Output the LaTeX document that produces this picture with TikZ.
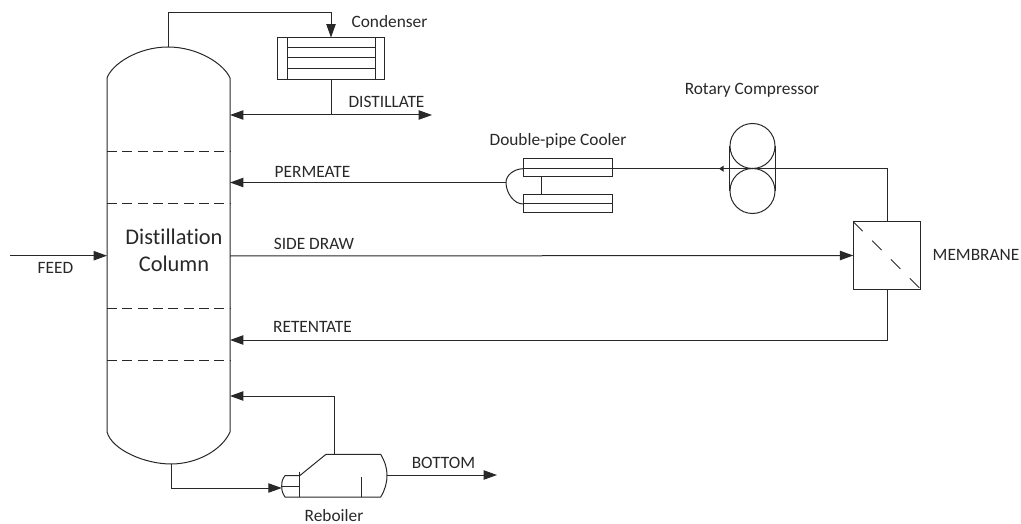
\documentclass[tikz,border=0pt]{standalone}
\usepackage{fontspec}
\setmainfont[Ligatures=NoCommon]{Carlito}
\usetikzlibrary{arrows.meta,calc}
\definecolor{ink}{RGB}{40,40,40}
\tikzset{
  pipe/.style={draw=ink,line width=0.75pt},
  flow/.style={pipe,-{Triangle[length=10pt,width=7pt]}},
  box/.style={draw=ink,line width=0.75pt,rectangle,inner sep=0pt,outer sep=0pt},
  lab/.style={text=ink,font=\fontsize{13}{15}\selectfont,inner sep=0pt},
  biglab/.style={text=ink,font=\fontsize{16.8}{19.5}\selectfont,inner sep=0pt,align=center},
  tray/.style={draw=ink,line width=0.7pt,dash pattern=on 7.5pt off 4pt}
}
\begin{document}
\begin{tikzpicture}[x=0.75pt,y=-0.75pt]
\useasboundingbox (0,0) rectangle (1021,524);
% coordinates
\coordinate (coltop) at (168,47);
\coordinate (colbot) at (171,464);
\coordinate (feedin) at (10,255.7);
\coordinate (feedend) at (107,255.7);
\coordinate (refl) at (230,115);
\coordinate (distout) at (432,115);
\coordinate (permin) at (230,182.5);
\coordinate (sidein) at (230,256);
\coordinate (retin) at (230,340);
\coordinate (boilin) at (230,396);
% column
\draw[pipe] (107,432) -- (107,78) .. controls (112,64) and (138,47) .. (coltop)
  .. controls (198,47) and (224,64) .. (230,78) -- (230,432)
  .. controls (222,450) and (197,464) .. (colbot)
  .. controls (145,464) and (112,450) .. (107,432) -- cycle;
\foreach \y in {151,203,308,360} \draw[tray] (107,\y) -- (230,\y);
\node[biglab] (collabel) at (174,250) {Distillation\\[0.5pt]Column};
% condenser
\node[box,minimum width=80.6pt,minimum height=31.5pt] (cond) at (331,58.5) {};
\draw[pipe] (287.5,37.5) -- (287.5,79.5) (375,37.5) -- (375,79.5);
\foreach \y in {48,58,69} \draw[pipe] (287.5,\y) -- (375,\y);
\coordinate (condtop) at (331,13);
\draw[flow] (coltop) |- (condtop) -- (cond.north);
\coordinate (condjoin) at (331,115);
\draw[pipe] (cond.south) -- (condjoin);
\draw[flow] (condjoin) -- (refl);
\draw[flow] (condjoin) -- (distout);
% double-pipe cooler
\node[box,minimum width=66.75pt,minimum height=13.5pt] (coolA) at (567.5,168) {};
\node[box,minimum width=66.75pt,minimum height=13.5pt] (coolB) at (567.5,204) {};
\coordinate (ua) at (523,168.7);
\coordinate (ub) at (523,204);
\coordinate (um) at (506,182.5);
\draw[pipe] (ua) -- (coolA.east |- ua);
\draw[pipe] (ub) -- (coolB.east |- ub);
\draw[pipe] (ua) .. controls (514,169) and (506,175) .. (um) .. controls (506,193) and (514,204) .. (ub);
\draw[pipe] (541.7,177) -- (541.7,195);
\draw[flow] (um) -- (permin);
% compressor
\node[draw=ink,line width=0.75pt,circle,minimum size=33.75pt,inner sep=0pt] (compA) at (752.5,146) {};
\node[draw=ink,line width=0.75pt,circle,minimum size=33.75pt,inner sep=0pt] (compB) at (752.5,191) {};
\draw[pipe] (compA.west) -- (compB.west) (compA.east) -- (compB.east);
% membrane
\node[box,minimum size=50.6pt] (mem) at (887,255.5) {};
\draw[draw=ink,line width=0.6pt,dash pattern=on 10pt off 10pt] (mem.north west) -- (mem.south east);
\coordinate (memup) at (887,168.7);
\coordinate (memdown) at (887,340);
\draw[pipe] (mem.north) -- (memup) -- (coolA.east |- memup);
\draw[draw=ink,line width=0.75pt,-{Triangle[length=3.5pt,width=4.5pt]}] (726,168.7) -- (719,168.7);
\draw[flow] (sidein) -- (mem.west);
\draw[flow] (mem.south) -- (memdown) -- (retin);
% feed
\draw[flow] (feedin) -- (feedend);
% reboiler
\coordinate (rbin) at (281.7,488);
\coordinate (rbtop) at (334,454.3);
\coordinate (rbout) at (387,475);
\coordinate (bottomout) at (497,475);
\draw[pipe] (299.3,476) -- (326,454.3) -- (380.7,454.3) .. controls (385,462) and (387,468) .. (rbout)
  .. controls (387,483) and (385,490) .. (380.7,497) -- (285,497)
  .. controls (282.5,493) and (281.7,491) .. (281.7,486.3)
  .. controls (281.7,481) and (282.5,479) .. (285,475.7) -- (299.3,475.7);
\draw[pipe] (299.3,471.7) -- (299.3,497) (281.7,486.3) -- (299.3,486.3) (361,497) -- (361,476.7);
\coordinate (rbelbow) at (171,488);
\draw[flow] (colbot) -- (rbelbow) -- (rbin);
\coordinate (rbup) at (334,396);
\draw[flow] (rbtop) -- (rbup) -- (boilin);
\draw[flow] (rbout) -- (bottomout);
% labels
\node[lab] (l1) at (389.5,22) {Condenser};
\node[lab] (l2) at (386.5,102) {DISTILLATE};
\node[lab] (l3) at (752,90) {Rotary Compressor};
\node[lab] (l4) at (558,141) {Double-pipe Cooler};
\node[lab] (l5) at (312.5,172) {PERMEATE};
\node[lab] (l6) at (314,244) {SIDE DRAW};
\node[lab] (l7) at (312.5,327) {RETENTATE};
\node[lab] (l8) at (55.5,268) {FEED};
\node[lab] (l9) at (976,255) {MEMBRANE};
\node[lab] (l10) at (334,515.5) {Reboiler};
\node[lab] (l11) at (443.5,463) {BOTTOM};
\end{tikzpicture}
\end{document}
